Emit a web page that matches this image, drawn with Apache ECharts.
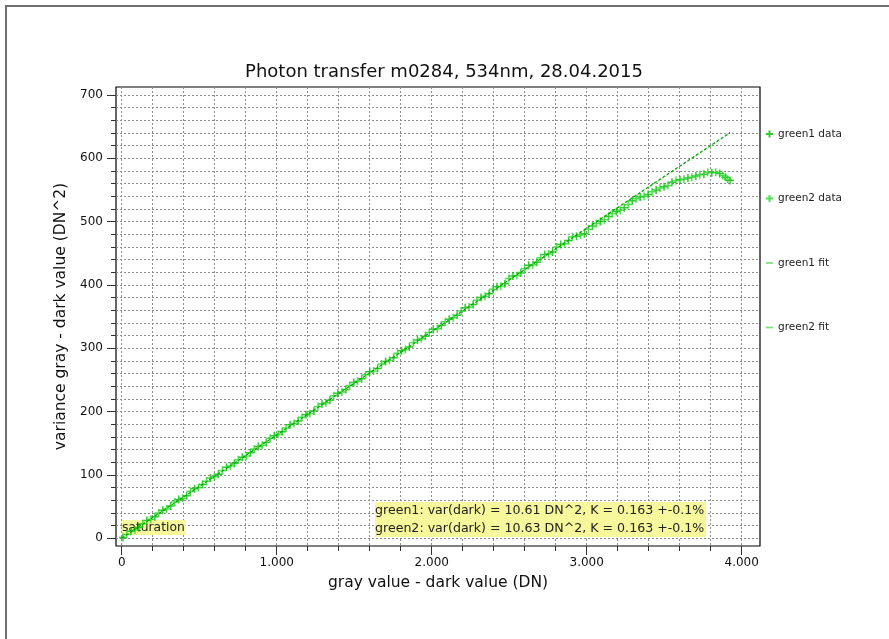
<!DOCTYPE html>
<html><head><meta charset="utf-8">
<script src="https://cdn.jsdelivr.net/npm/echarts@6/dist/echarts.min.js"></script>
<style>html,body{margin:0;padding:0;background:#fff}#c{width:889px;height:639px}</style>
</head><body><div id="c"></div>
<script>
const titleText = 'Photon transfer m0284, 534nm, 28.04.2015';
const xName = 'gray value - dark value (DN)';
const yName = 'variance gray - dark value (DN^2)';
const seriesNames = ['green1 data', 'green2 data', 'green1 fit', 'green2 fit'];
const statLines = ['green1: var(dark) = 10.61 DN^2, K = 0.163 +-0.1%', 'green2: var(dark) = 10.63 DN^2, K = 0.163 +-0.1%'];
const xTicks = [0, 1000, 2000, 3000, 4000];
const yTicks = [0, 100, 200, 300, 400, 500, 600, 700];

const g1X = [8,60,111,162,214,265,316,368,419,470,522,573,624,676,727,778,830,881,932,984,1035,1086,1138,1189,1240,1292,1343,1394,1446,1497,1548,1600,1651,1702,1754,1805,1856,1908,1959,2010,2062,2113,2164,2216,2267,2318,2370,2421,2472,2524,2575,2626,2678,2729,2780,2832,2883,2934,2986,3037,3088,3140,3191,3242,3294,3345,3396,3448,3499,3550,3602,3653,3704,3756,3807,3858,3895,3925];
const g1Y = [1,11,17,28,34,44,51,61,67,78,85,95,101,112,118,128,135,145,151,162,168,179,185,195,201,212,218,229,235,246,252,263,268,279,285,296,302,313,319,330,336,346,352,364,369,380,386,397,402,414,419,431,436,448,452,464,470,477,481,493,500,508,516,522,533,539,543,550,555,562,566,569,572,575,577,576,570,565];
const g2X = [33,85,136,188,239,290,342,393,444,496,547,598,650,701,752,804,855,906,958,1009,1060,1112,1163,1214,1266,1317,1368,1420,1471,1522,1574,1625,1676,1728,1779,1830,1882,1933,1984,2036,2087,2138,2190,2241,2292,2344,2395,2446,2498,2549,2600,2652,2703,2754,2806,2857,2908,2960,3011,3062,3114,3165,3216,3268,3319,3370,3422,3473,3524,3576,3627,3678,3730,3781,3832,3878,3910];
const g2Y = [6,13,23,30,40,46,57,63,74,80,90,97,107,114,124,130,141,147,158,164,174,181,191,197,208,214,225,231,241,248,258,264,275,281,292,298,309,315,325,331,342,348,359,365,376,382,393,398,410,415,426,432,443,449,460,465,476,479,488,497,503,513,518,527,536,540,547,553,557,565,567,570,574,578,578,573,567];
const fitX = [0, 3925];
const fit1Y = [0, 641];
const fit2Y = [0, 640];

const FONT = 'DejaVu Sans';
const zip = (xs, ys) => xs.map((x, i) => [x, ys[i]]);
const plus = 'path://M0,4L8,4M4,0L4,8';
const dash = 'path://M0,0M0,3L8,3L8,5L0,5ZM8,8';
const grid = { type: [2, 2], color: '#8c8c8c', width: 1 };

function fmtX(v) {
  if (Math.abs(v % 1000) > 1e-6) return '';
  return v === 0 ? '0' : (v / 1000) + '.000';
}
function fmtY(v) {
  if (Math.abs(v % 100) > 1e-6) return '';
  return String(v);
}

const chart = echarts.init(document.getElementById('c'));
chart.setOption({
  animation: false,
  backgroundColor: '#fff',
  textStyle: { fontFamily: FONT },
  title: {
    text: titleText, left: 439, top: 58, textAlign: 'center',
    textStyle: { fontFamily: FONT, fontSize: 18, fontWeight: 'normal', color: '#111' }
  },
  grid: { left: 116, right: 129, top: 87, bottom: 93, show: true, borderColor: '#000', borderWidth: 1.2, backgroundColor: 'transparent' },
  legend: {
    orient: 'vertical', left: 765, top: 128, padding: 0, itemWidth: 7, itemHeight: 8, itemGap: 52.5,
    data: [
      { name: seriesNames[0] }, { name: seriesNames[1] },
      { name: seriesNames[2], icon: dash, itemStyle: { color: '#80dc80', borderWidth: 0 } },
      { name: seriesNames[3], icon: dash, itemStyle: { color: '#80dc80', borderWidth: 0 } }
    ],
    textStyle: { fontFamily: FONT, fontSize: 10.5, color: '#222', lineHeight: 12 }
  },
  xAxis: {
    type: 'value', min: -37, max: 4118,
    name: xName, nameLocation: 'middle', nameGap: 29,
    nameTextStyle: { fontFamily: FONT, fontSize: 15.5, color: '#111' },
    axisLine: { show: false, onZero: false },
    axisTick: { show: true, inside: false, length: 9, customValues: xTicks, lineStyle: { color: '#333' } },
    minorTick: { show: true, splitNumber: 5, length: 5, lineStyle: { color: '#333' } },
    axisLabel: { formatter: fmtX, customValues: xTicks, margin: 11, fontFamily: FONT, fontSize: 12, color: '#111' },
    splitLine: { show: true, lineStyle: grid },
    minorSplitLine: { show: true, lineStyle: grid }
  },
  yAxis: {
    type: 'value', min: -12.3, max: 712.6,
    name: yName, nameLocation: 'middle', nameGap: 40,
    nameTextStyle: { fontFamily: FONT, fontSize: 15.5, color: '#111' },
    axisLine: { show: false, onZero: false },
    axisTick: { show: true, inside: false, length: 9, customValues: yTicks, lineStyle: { color: '#333' } },
    minorTick: { show: true, splitNumber: 5, length: 5, lineStyle: { color: '#333' } },
    axisLabel: { formatter: fmtY, customValues: yTicks, margin: 13, fontFamily: FONT, fontSize: 12, color: '#111' },
    splitLine: { show: true, lineStyle: grid },
    minorSplitLine: { show: true, lineStyle: grid }
  },
  series: [
    { name: seriesNames[0], type: 'scatter', data: zip(g1X, g1Y), symbol: plus, symbolSize: 8,
      itemStyle: { color: 'rgba(0,0,0,0)', borderColor: '#00bb00', borderWidth: 1.5 } },
    { name: seriesNames[1], type: 'scatter', data: zip(g2X, g2Y), symbol: plus, symbolSize: 8,
      itemStyle: { color: 'rgba(0,0,0,0)', borderColor: '#22d822', borderWidth: 1.5 } },
    { name: seriesNames[2], type: 'line', data: zip(fitX, fit1Y), symbol: 'none',
      itemStyle: { color: '#80dc80' }, lineStyle: { color: '#00a800', width: 1, type: [3, 2] } },
    { name: seriesNames[3], type: 'line', data: zip(fitX, fit2Y), symbol: 'none',
      itemStyle: { color: '#80dc80' }, lineStyle: { color: '#00a800', width: 1, type: [3, 2] } }
  ],
  graphic: [
    { type: 'rect', silent: true, z: 1, shape: { x: 6, y: 6, width: 950, height: 700 },
      style: { fill: 'none', stroke: '#6e6e6e', lineWidth: 2 } },
    { type: 'text', x: 122, y: 520, silent: true, z: 1,
      style: { text: 'saturation', font: '12.3px "DejaVu Sans"', fill: '#222', backgroundColor: '#f7f79c', padding: [2, 1, 1, 0] } },
    { type: 'text', x: 375, y: 502, silent: true, z: 1,
      style: { text: statLines.join('\n'), font: '12.6px "DejaVu Sans"', fill: '#222', lineHeight: 17.5, backgroundColor: '#f7f79c', padding: [0, 2, 0, 0] } }
  ]
});
</script></body></html>
